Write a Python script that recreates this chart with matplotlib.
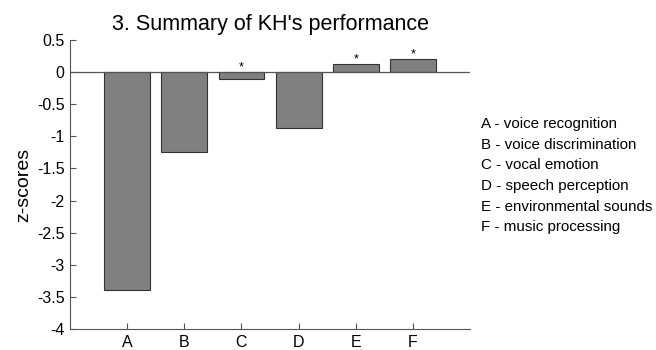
import matplotlib
matplotlib.use("Agg")
import matplotlib.pyplot as plt

plt.rcParams['font.family'] = ['Liberation Sans', 'DejaVu Sans']

categories = ['A', 'B', 'C', 'D', 'E', 'F']
values = [-3.39, -1.24, -0.10, -0.87, 0.125, 0.20]
significant = [False, False, True, False, True, True]
descriptions = ['voice recognition', 'voice discrimination', 'vocal emotion',
                'speech perception', 'environmental sounds', 'music processing']
yticks = [0.5, 0, -0.5, -1, -1.5, -2, -2.5, -3, -3.5, -4]

fig = plt.figure(figsize=(6.56, 3.5), dpi=100)
ax = fig.add_axes([0.1067, 0.06, 0.61, 0.8257])
x = list(range(1, len(categories) + 1))
ax.bar(x, values, width=0.8, color='#808080', edgecolor='#333333', linewidth=0.8, zorder=2)
ax.axhline(0, color='#555555', linewidth=0.9, zorder=3)
for xi, v, s in zip(x, values, significant):
    if s:
        ax.annotate('*', (xi, max(v, 0)), xytext=(0, -1), textcoords='offset points',
                    ha='center', va='bottom', fontsize=9)
ax.set_xlim(0, 7)
ax.set_ylim(-4, 0.5)
ax.set_xticks(x)
ax.set_xticklabels(categories, fontsize=11.5)
ax.set_yticks(yticks)
ax.set_yticklabels([('%g' % t) for t in yticks], fontsize=11.5)
ax.tick_params(direction='in', length=4, width=0.8, color='#555555', pad=4)
ax.spines['top'].set_visible(False)
ax.spines['right'].set_visible(False)
for sp in ['left', 'bottom']:
    ax.spines[sp].set_color('#555555')
    ax.spines[sp].set_linewidth(0.8)
ax.set_ylabel('z-scores', fontsize=14, labelpad=3)
ax.set_title("3. Summary of KH's performance", fontsize=15.5, pad=7)

y0 = 1 - 124 / 350
for i, (c, d) in enumerate(zip(categories, descriptions)):
    fig.text(0.733, y0 - i * 0.059, f'{c} - {d}', fontsize=10.9, va='center', ha='left')

fig.savefig('out.png', dpi=100)
